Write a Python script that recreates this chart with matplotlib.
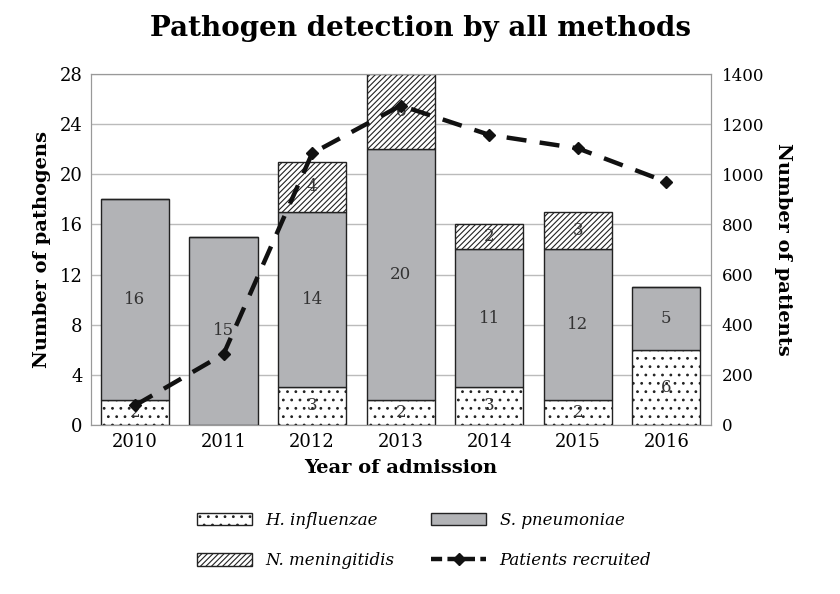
import matplotlib
matplotlib.use("Agg")
import matplotlib.pyplot as plt
import numpy as np
from matplotlib.lines import Line2D
from matplotlib.patches import Patch

plt.rcParams['font.family'] = ['DejaVu Serif']
plt.rcParams['hatch.linewidth'] = 0.8

years = ['2010', '2011', '2012', '2013', '2014', '2015', '2016']
h_influenzae = [2, 0, 3, 2, 3, 2, 6]
s_pneumoniae = [16, 15, 14, 20, 11, 12, 5]
n_meningitidis = [0, 0, 4, 6, 2, 3, 0]
patients = [77, 282, 1084, 1275, 1158, 1104, 970]

fig = plt.figure(figsize=(8.4, 5.94), dpi=100)
ax = fig.add_axes([0.108, 0.285, 0.738, 0.59])
ax2 = ax.twinx()

x = np.arange(len(years))
w = 0.77
gray = '#b2b3b6'
dots = '..'
stripes = '//////'
ax.bar(x, h_influenzae, w, color='white', edgecolor='#222222', hatch=dots, linewidth=1.0, zorder=3)
ax.bar(x, s_pneumoniae, w, bottom=h_influenzae, color=gray, edgecolor='#222222', linewidth=1.0, zorder=3)
bot3 = [a + b for a, b in zip(h_influenzae, s_pneumoniae)]
ax.bar(x, n_meningitidis, w, bottom=bot3, color='white', edgecolor='#222222', hatch=stripes, linewidth=1.0, zorder=3)

for i in range(len(years)):
    if h_influenzae[i]:
        ax.text(x[i], h_influenzae[i] / 2, str(h_influenzae[i]), ha='center', va='center', fontsize=12, color='#333333', zorder=4)
    if s_pneumoniae[i]:
        ax.text(x[i], h_influenzae[i] + s_pneumoniae[i] / 2, str(s_pneumoniae[i]), ha='center', va='center', fontsize=12, color='#333333', zorder=4)
    if n_meningitidis[i]:
        ax.text(x[i], bot3[i] + n_meningitidis[i] / 2, str(n_meningitidis[i]), ha='center', va='center', fontsize=12, color='#333333', zorder=4)

ax.set_ylim(0, 28)
ax.set_yticks(range(0, 29, 4))
ax.set_xlim(-0.5, len(years) - 0.5)
ax.set_xticks(x)
ax.set_xticklabels(years)
ax.yaxis.grid(True, color='#bbbbbb', linewidth=1.0, zorder=0)
ax.set_axisbelow(True)
for s in ax.spines.values():
    s.set_color('#999999')
for s in ax2.spines.values():
    s.set_color('#999999')
ax.tick_params(axis='both', length=0, labelsize=13, pad=6)

ax2.set_ylim(0, 1400)
ax2.set_yticks(range(0, 1401, 200))
ax2.tick_params(axis='y', length=0, labelsize=12, pad=8)
dash = (0, (4.5, 3))
ax2.plot(x, patients, color='#111111', linestyle=dash, linewidth=3.2, marker='D', markersize=6, zorder=5)

ax.set_ylabel('Number of pathogens', fontsize=14, fontweight='bold', labelpad=6)
ax2.set_ylabel('Number of patients', fontsize=14, fontweight='bold', rotation=270, labelpad=20)
ax.set_xlabel('Year of admission', fontsize=14, fontweight='bold', labelpad=6)
fig.suptitle('Pathogen detection by all methods', fontsize=20, fontweight='bold', y=0.975)

handles = [
    Patch(facecolor='white', edgecolor='#222222', hatch=dots, label='H. influenzae'),
    Patch(facecolor='white', edgecolor='#222222', hatch=stripes, label='N. meningitidis'),
    Patch(facecolor=gray, edgecolor='#222222', label='S. pneumoniae'),
    Line2D([0], [0], color='#111111', linestyle=(0, (2.5, 1.2)), linewidth=3.2, marker='D', markersize=6, label='Patients recruited'),
]
fig.legend(handles=handles, loc='center', bbox_to_anchor=(0.505, 0.09), ncol=2, frameon=False,
           prop={'style': 'italic', 'size': 12}, handlelength=3.3, handleheight=0.8, columnspacing=2.2, labelspacing=1.4)

fig.savefig('out.png', dpi=100)
